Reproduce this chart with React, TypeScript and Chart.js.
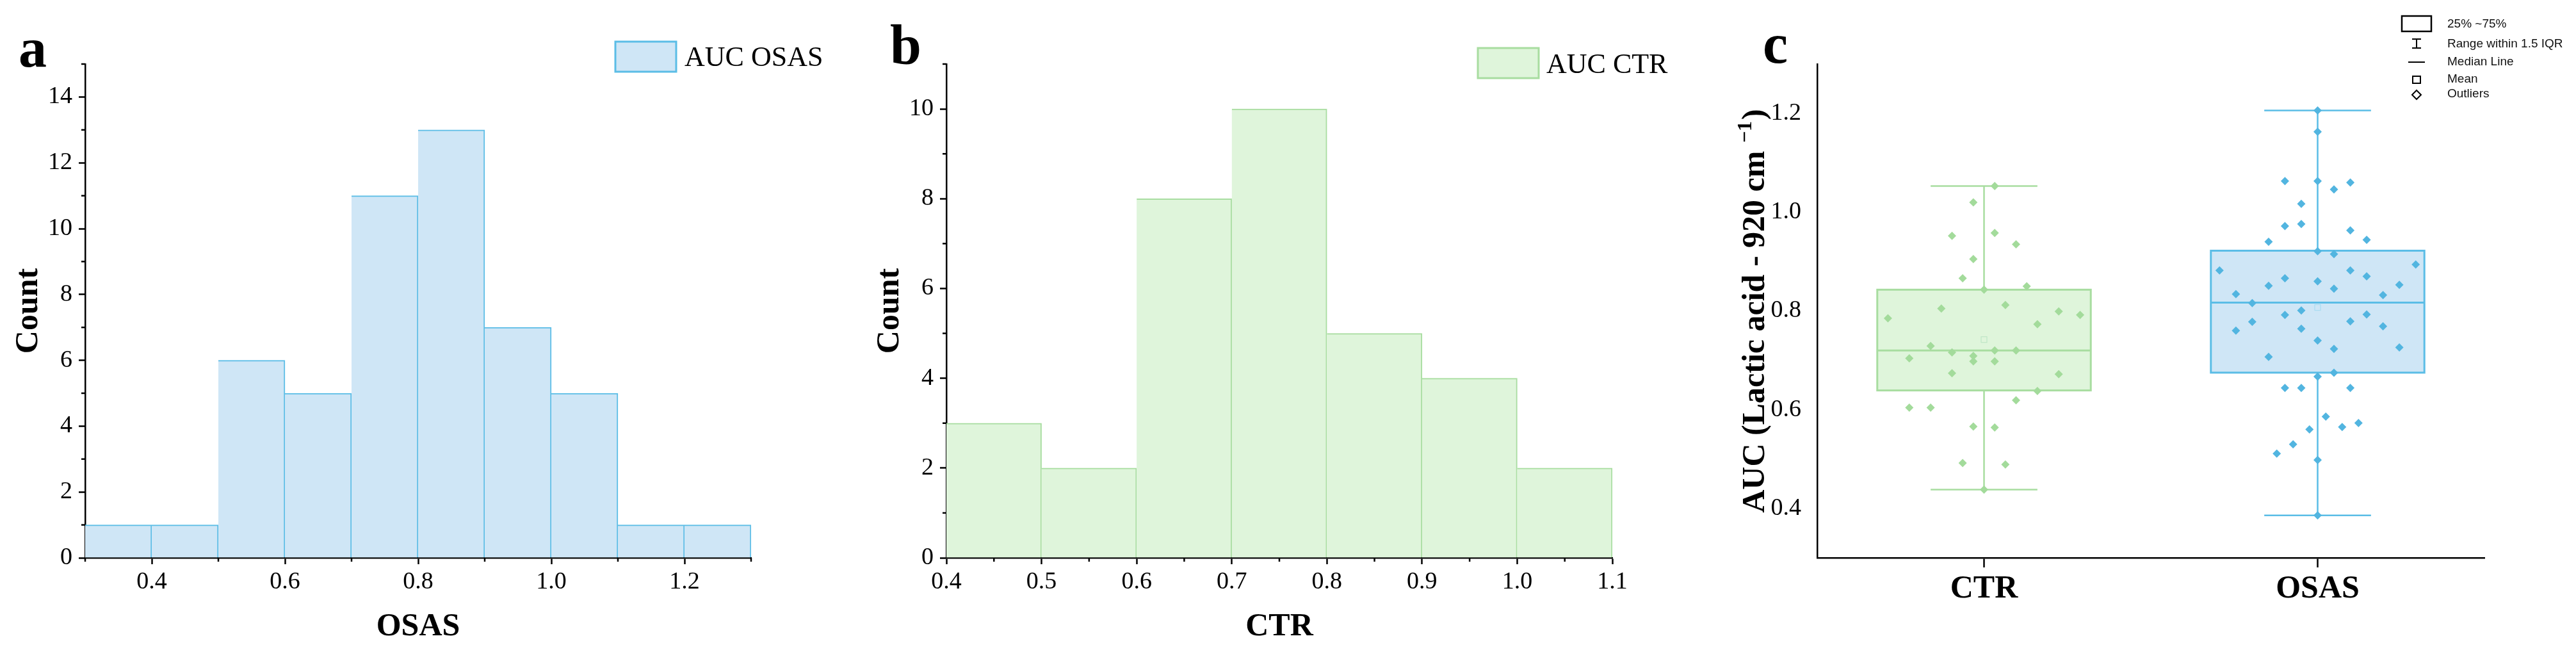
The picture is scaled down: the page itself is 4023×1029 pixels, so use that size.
import React, { useEffect, useRef } from 'react';
import { Chart, registerables } from 'chart.js';

Chart.register(...registerables);

const W = 4023;
const H = 1029;
const SERIF = "'Liberation Serif', 'Times New Roman', Times, serif";
const SANS = "'Liberation Sans', Arial, Helvetica, sans-serif";

// ---------------- data: panel a (OSAS histogram) ----------------
const osasBinStarts = [0.3, 0.4, 0.5, 0.6, 0.7, 0.8, 0.9, 1.0, 1.1, 1.2];
const osasCounts = [1, 1, 6, 5, 11, 13, 7, 5, 1, 1];
const osasXTicks = [0.4, 0.6, 0.8, 1.0, 1.2];
const osasXMinorTicks = [0.3, 0.5, 0.7, 0.9, 1.1, 1.3];
const osasYTicks = [0, 2, 4, 6, 8, 10, 12, 14];
const osasYMinorTicks = [1, 3, 5, 7, 9, 11, 13, 15];

// ---------------- data: panel b (CTR histogram) ----------------
const ctrBinStarts = [0.4, 0.5, 0.6, 0.7, 0.8, 0.9, 1.0];
const ctrCounts = [3, 2, 8, 10, 5, 4, 2];
const ctrXTicks = [0.4, 0.5, 0.6, 0.7, 0.8, 0.9, 1.0, 1.1];
const ctrXMinorTicks = [0.45, 0.55, 0.65, 0.75, 0.85, 0.95, 1.05];
const ctrYTicks = [0, 2, 4, 6, 8, 10];
const ctrYMinorTicks = [1, 3, 5, 7, 9, 11];
const BIN_WIDTH = 0.1;

// ---------------- data: panel c (box plot) ----------------
const groups = ['CTR', 'OSAS'];
const boxLow = [0.438, 0.386];
const boxQ1 = [0.639, 0.675];
const boxMedian = [0.72, 0.817];
const boxQ3 = [0.843, 0.922];
const boxHigh = [1.053, 1.206];
const boxMean = [0.742, 0.807];
const cYTicks = [0.4, 0.6, 0.8, 1.0, 1.2];

const ctrValues = [
  1.053, 1.02, 0.952, 0.958, 0.935, 0.905, 0.866, 0.843, 0.85, 0.805, 0.812, 0.799,
  0.792, 0.773, 0.729, 0.716, 0.72, 0.72, 0.709, 0.698, 0.698, 0.674, 0.672, 0.638,
  0.619, 0.604, 0.566, 0.564, 0.492, 0.489, 0.438, 0.785, 0.704, 0.604,
];
const ctrJitter = [
  0.032, -0.032, -0.096, 0.032, 0.096, -0.032, -0.064, 0, 0.128, -0.128, 0.064, 0.224,
  0.288, 0.16, -0.16, -0.096, 0.032, 0.096, -0.032, -0.032, 0.032, -0.096, 0.224, 0.16,
  0.096, -0.16, -0.032, 0.032, -0.064, 0.064, 0, -0.288, -0.224, -0.224,
];

const osasValues = [
  1.206, 1.163, 1.063, 1.063, 1.06, 1.046, 1.017, 0.972, 0.976, 0.963, 0.94, 0.944,
  0.921, 0.915, 0.882, 0.882, 0.866, 0.86, 0.87, 0.834, 0.851, 0.845, 0.816, 0.792,
  0.801, 0.779, 0.76, 0.778, 0.793, 0.764, 0.74, 0.723, 0.707, 0.675, 0.667, 0.644,
  0.644, 0.644, 0.586, 0.56, 0.565, 0.573, 0.53, 0.511, 0.498, 0.386, 0.832, 0.853,
  0.894, 0.769, 0.726,
];
const osasJitter = [
  0, 0, -0.098, 0, 0.098, 0.049, -0.049, -0.098, -0.049, 0.098, -0.147, 0.147,
  0, 0.049, -0.294, 0.098, -0.098, 0, 0.147, -0.245, -0.147, 0.049, -0.196, -0.098,
  -0.049, 0.098, -0.245, -0.196, 0.147, -0.049, 0, 0.049, -0.147, 0.049, 0, -0.098,
  -0.049, 0.098, 0.0245, -0.0245, 0.0735, 0.1225, -0.0735, -0.1225, 0, 0, 0.196, 0.245,
  0.294, 0.196, 0.245,
];

const cLegendLabels = ['25% ~75%', 'Range within 1.5 IQR', 'Median Line', 'Mean', 'Outliers'];

// ---------------- styles ----------------
const OSAS_FILL = '#cfe6f6';
const OSAS_LINE = '#5bbde6';
const OSAS_PT = '#52b5e0';
const CTR_FILL = '#dff5db';
const CTR_LINE = '#a8dda0';
const CTR_PT = '#a3db9b';
const GROUP_FILL = [CTR_FILL, OSAS_FILL];
const GROUP_LINE = [CTR_LINE, OSAS_LINE];
const GROUP_MEAN = ['#bfe6c6', '#a9dcf2'];
const AXIS_W = 2.5;
const MINOR_LEN = 6;

Chart.defaults.font.family = SERIF;
Chart.defaults.color = '#000';

type HistSpec = {
  binStarts: number[];
  counts: number[];
  xMin: number;
  xMax: number;
  yMax: number;
  xTicks: number[];
  xMinor: number[];
  yTicks: number[];
  yMinor: number[];
  fill: string;
  stroke: string;
  xTitle: string;
  legendText: string;
  legendBox: [number, number, number, number];
  legendTextX: number;
  legendBaseline: number;
  letter: string;
  letterX: number;
  letterBaseline: number;
};

function makeHist(canvas: HTMLCanvasElement, s: HistSpec) {
  const decor = {
    id: 'decor',
    afterDraw(chart: any) {
      const { ctx, chartArea, scales } = chart;
      ctx.save();
      ctx.strokeStyle = '#000';
      ctx.lineWidth = AXIS_W;
      s.xMinor.forEach((v) => {
        const px = scales.x.getPixelForValue(v);
        ctx.beginPath();
        ctx.moveTo(px, chartArea.bottom);
        ctx.lineTo(px, chartArea.bottom + MINOR_LEN);
        ctx.stroke();
      });
      s.yMinor.forEach((v) => {
        const py = scales.y.getPixelForValue(v);
        ctx.beginPath();
        ctx.moveTo(chartArea.left, py);
        ctx.lineTo(chartArea.left - MINOR_LEN, py);
        ctx.stroke();
      });
      const [lx, ly, lw, lh] = s.legendBox;
      ctx.fillStyle = s.fill;
      ctx.fillRect(lx, ly, lw, lh);
      ctx.strokeStyle = s.stroke;
      ctx.lineWidth = 3;
      ctx.strokeRect(lx, ly, lw, lh);
      ctx.fillStyle = '#000';
      ctx.textAlign = 'left';
      ctx.textBaseline = 'alphabetic';
      ctx.font = `44px ${SERIF}`;
      ctx.fillText(s.legendText, s.legendTextX, s.legendBaseline);
      ctx.font = `bold 88px ${SERIF}`;
      ctx.fillText(s.letter, s.letterX, s.letterBaseline);
      ctx.restore();
    },
  };

  return new Chart(canvas, {
    type: 'bar',
    data: {
      datasets: [
        {
          data: s.binStarts.map((b, i) => ({ x: b + BIN_WIDTH / 2, y: s.counts[i] })),
          backgroundColor: s.fill,
          borderColor: s.stroke,
          borderWidth: { top: 2, right: 2, bottom: 0, left: 0 },
          borderSkipped: false,
          barPercentage: 1,
          categoryPercentage: 1,
        } as any,
      ],
    },
    options: {
      animation: false,
      responsive: false,
      events: [],
      layout: { padding: { left: 0, top: 100, right: 127, bottom: 0 } },
      plugins: { legend: { display: false }, tooltip: { enabled: false } },
      scales: {
        x: {
          type: 'linear',
          min: s.xMin,
          max: s.xMax,
          offset: false,
          afterBuildTicks: (ax: any) => {
            ax.ticks = s.xTicks.map((v) => ({ value: v }));
          },
          afterFit: (ax: any) => {
            ax.height = 158;
          },
          grid: {
            display: true,
            drawOnChartArea: false,
            offset: false,
            tickLength: 10,
            tickWidth: AXIS_W,
            tickColor: '#000',
          },
          border: { display: true, color: '#000', width: AXIS_W },
          ticks: {
            font: { family: SERIF, size: 38 },
            color: '#000',
            padding: 5,
            maxRotation: 0,
            autoSkip: false,
            callback: (v: any) => Number(v).toFixed(1),
          },
          title: {
            display: true,
            text: s.xTitle,
            color: '#000',
            font: { family: SERIF, size: 50, weight: 'bold' },
            padding: { top: 0, bottom: 20 },
          },
        },
        y: {
          type: 'linear',
          min: 0,
          max: s.yMax,
          afterBuildTicks: (ax: any) => {
            ax.ticks = s.yTicks.map((v) => ({ value: v }));
          },
          afterFit: (ax: any) => {
            ax.width = 133;
          },
          grid: {
            display: true,
            drawOnChartArea: false,
            tickLength: 10,
            tickWidth: AXIS_W,
            tickColor: '#000',
          },
          border: { display: true, color: '#000', width: AXIS_W },
          ticks: {
            font: { family: SERIF, size: 38 },
            color: '#000',
            padding: 10,
            autoSkip: false,
            callback: (v: any) => String(v),
          },
          title: {
            display: true,
            text: 'Count',
            color: '#000',
            font: { family: SERIF, size: 50, weight: 'bold' },
            padding: { top: 15, bottom: 0 },
          },
        },
      },
    } as any,
    plugins: [decor],
  });
}

function makeBox(canvas: HTMLCanvasElement) {
  const BOX_HALF = 0.32;
  const CAP_HALF = 0.16;
  const boxPlugin = {
    id: 'boxes',
    beforeDatasetsDraw(chart: any) {
      const { ctx, scales } = chart;
      const x = scales.x;
      const y = scales.y;
      ctx.save();
      groups.forEach((_, i) => {
        const xl = x.getPixelForValue(i - BOX_HALF);
        const xr = x.getPixelForValue(i + BOX_HALF);
        const xc = x.getPixelForValue(i);
        const cl = x.getPixelForValue(i - CAP_HALF);
        const cr = x.getPixelForValue(i + CAP_HALF);
        const yq1 = y.getPixelForValue(boxQ1[i]);
        const yq3 = y.getPixelForValue(boxQ3[i]);
        const ymed = y.getPixelForValue(boxMedian[i]);
        const ylo = y.getPixelForValue(boxLow[i]);
        const yhi = y.getPixelForValue(boxHigh[i]);
        const ymean = y.getPixelForValue(boxMean[i]);
        ctx.strokeStyle = GROUP_LINE[i];
        ctx.lineWidth = 2.5;
        // whiskers
        ctx.beginPath();
        ctx.moveTo(xc, yq3);
        ctx.lineTo(xc, yhi);
        ctx.moveTo(cl, yhi);
        ctx.lineTo(cr, yhi);
        ctx.moveTo(xc, yq1);
        ctx.lineTo(xc, ylo);
        ctx.moveTo(cl, ylo);
        ctx.lineTo(cr, ylo);
        ctx.stroke();
        // box
        ctx.fillStyle = GROUP_FILL[i];
        ctx.fillRect(xl, yq3, xr - xl, yq1 - yq3);
        ctx.lineWidth = 3;
        ctx.strokeRect(xl, yq3, xr - xl, yq1 - yq3);
        // whisker segment inside box is hidden by fill; median
        ctx.beginPath();
        ctx.moveTo(xl, ymed);
        ctx.lineTo(xr, ymed);
        ctx.stroke();
        // mean
        ctx.strokeStyle = GROUP_MEAN[i];
        ctx.lineWidth = 1.2;
        ctx.strokeRect(xc - 4.5, ymean - 4.5, 9, 9);
      });
      ctx.restore();
    },
    afterDraw(chart: any) {
      const { ctx, chartArea } = chart;
      ctx.save();
      // y-axis title with superscript
      ctx.translate(39, (chartArea.top + chartArea.bottom) / 2 + 1);
      ctx.rotate(-Math.PI / 2);
      const main = 'AUC (Lactic acid - 920 cm ';
      const sup = '\u22121';
      const close = ')';
      ctx.fillStyle = '#000';
      ctx.textBaseline = 'alphabetic';
      ctx.textAlign = 'left';
      ctx.font = `bold 50px ${SERIF}`;
      const w1 = ctx.measureText(main).width;
      const w3 = ctx.measureText(close).width;
      ctx.font = `bold 32px ${SERIF}`;
      const w2 = ctx.measureText(sup).width;
      const x0 = -(w1 + w2 + w3) / 2;
      const base = 16;
      ctx.font = `bold 50px ${SERIF}`;
      ctx.fillText(main, x0, base);
      ctx.font = `bold 32px ${SERIF}`;
      ctx.fillText(sup, x0 + w1, base - 20);
      ctx.font = `bold 50px ${SERIF}`;
      ctx.fillText(close, x0 + w1 + w2 + 2, base);
      ctx.restore();

      // panel letter
      ctx.save();
      ctx.fillStyle = '#000';
      ctx.textBaseline = 'alphabetic';
      ctx.font = `bold 88px ${SERIF}`;
      ctx.fillText('c', 53, 98);

      // legend
      ctx.strokeStyle = '#000';
      ctx.lineWidth = 2.5;
      ctx.strokeRect(1051, 25, 46, 24);
      ctx.lineWidth = 2;
      ctx.beginPath();
      ctx.moveTo(1074, 61);
      ctx.lineTo(1074, 75);
      ctx.moveTo(1067, 61);
      ctx.lineTo(1081, 61);
      ctx.moveTo(1067, 75);
      ctx.lineTo(1081, 75);
      ctx.moveTo(1061, 97);
      ctx.lineTo(1087, 97);
      ctx.stroke();
      ctx.strokeRect(1068, 119, 12, 11);
      ctx.beginPath();
      ctx.moveTo(1074, 141);
      ctx.lineTo(1081, 148);
      ctx.lineTo(1074, 155);
      ctx.lineTo(1067, 148);
      ctx.closePath();
      ctx.stroke();
      ctx.font = `19px ${SANS}`;
      ctx.fillStyle = '#111';
      ctx.textBaseline = 'middle';
      const rows = [38, 69, 97, 124, 147];
      cLegendLabels.forEach((t, i) => ctx.fillText(t, 1122, rows[i]));
      ctx.restore();
    },
  };

  const pointDs = (vals: number[], jit: number[], gi: number, color: string) => ({
    label: groups[gi],
    data: vals.map((v, i) => ({ x: gi + jit[i], y: v })),
    pointStyle: 'rectRot',
    pointRadius: 6.5,
    pointHoverRadius: 6.5,
    pointBackgroundColor: color,
    pointBorderColor: color,
    pointBorderWidth: 0,
    showLine: false,
  });

  return new Chart(canvas, {
    type: 'scatter',
    data: {
      datasets: [
        pointDs(ctrValues, ctrJitter, 0, CTR_PT),
        pointDs(osasValues, osasJitter, 1, OSAS_PT),
      ] as any,
    },
    options: {
      animation: false,
      responsive: false,
      events: [],
      layout: { padding: { left: 0, top: 100, right: 143, bottom: 0 } },
      plugins: { legend: { display: false }, tooltip: { enabled: false } },
      scales: {
        x: {
          type: 'linear',
          min: -0.5,
          max: 1.5,
          afterBuildTicks: (ax: any) => {
            ax.ticks = groups.map((_, i) => ({ value: i }));
          },
          afterFit: (ax: any) => {
            ax.height = 158;
          },
          grid: {
            display: true,
            drawOnChartArea: false,
            tickLength: 15,
            tickWidth: AXIS_W,
            tickColor: '#000',
          },
          border: { display: true, color: '#000', width: AXIS_W },
          ticks: {
            font: { family: SERIF, size: 50, weight: 'bold' },
            color: '#000',
            padding: 4,
            maxRotation: 0,
            autoSkip: false,
            callback: (v: any) => groups[Math.round(Number(v))] ?? '',
          },
        },
        y: {
          type: 'linear',
          min: 0.3,
          max: 1.3,
          afterBuildTicks: (ax: any) => {
            ax.ticks = cYTicks.map((v) => ({ value: v }));
          },
          afterFit: (ax: any) => {
            ax.width = 138;
          },
          grid: { display: false },
          border: { display: true, color: '#000', width: AXIS_W },
          ticks: {
            font: { family: SERIF, size: 38 },
            color: '#000',
            padding: 17,
            autoSkip: false,
            callback: (v: any) => Number(v).toFixed(1),
          },
        },
      },
    } as any,
    plugins: [boxPlugin],
  });
}

const specA: HistSpec = {
  binStarts: osasBinStarts,
  counts: osasCounts,
  xMin: 0.3,
  xMax: 1.3,
  yMax: 15,
  xTicks: osasXTicks,
  xMinor: osasXMinorTicks,
  yTicks: osasYTicks,
  yMinor: osasYMinorTicks,
  fill: OSAS_FILL,
  stroke: OSAS_LINE,
  xTitle: 'OSAS',
  legendText: 'AUC OSAS',
  legendBox: [961, 65, 95, 47],
  legendTextX: 1069,
  legendBaseline: 103,
  letter: 'a',
  letterX: 29,
  letterBaseline: 104,
};

const specB: HistSpec = {
  binStarts: ctrBinStarts,
  counts: ctrCounts,
  xMin: 0.4,
  xMax: 1.1,
  yMax: 11,
  xTicks: ctrXTicks,
  xMinor: ctrXMinorTicks,
  yTicks: ctrYTicks,
  yMinor: ctrYMinorTicks,
  fill: CTR_FILL,
  stroke: CTR_LINE,
  xTitle: 'CTR',
  legendText: 'AUC CTR',
  legendBox: [963, 75, 95, 47],
  legendTextX: 1070,
  legendBaseline: 114,
  letter: 'b',
  letterX: 45,
  letterBaseline: 100,
};

export default function App() {
  const aRef = useRef<HTMLCanvasElement>(null);
  const bRef = useRef<HTMLCanvasElement>(null);
  const cRef = useRef<HTMLCanvasElement>(null);

  useEffect(() => {
    const charts: Chart[] = [];
    if (aRef.current) charts.push(makeHist(aRef.current, specA));
    if (bRef.current) charts.push(makeHist(bRef.current, specB));
    if (cRef.current) charts.push(makeBox(cRef.current));
    return () => charts.forEach((c) => c.destroy());
  }, []);

  const cs = (left: number, width: number): React.CSSProperties => ({
    position: 'absolute',
    left,
    top: 0,
    width,
    height: H,
  });

  return (
    <div
      style={{
        position: 'fixed',
        left: 0,
        top: 0,
        width: W,
        height: H,
        background: '#fff',
        overflow: 'hidden',
      }}
    >
      <canvas ref={aRef} width={1300} height={H} style={cs(0, 1300)} />
      <canvas ref={bRef} width={1300} height={H} style={cs(1345, 1300)} />
      <canvas ref={cRef} width={1323} height={H} style={cs(2700, 1323)} />
    </div>
  );
}
